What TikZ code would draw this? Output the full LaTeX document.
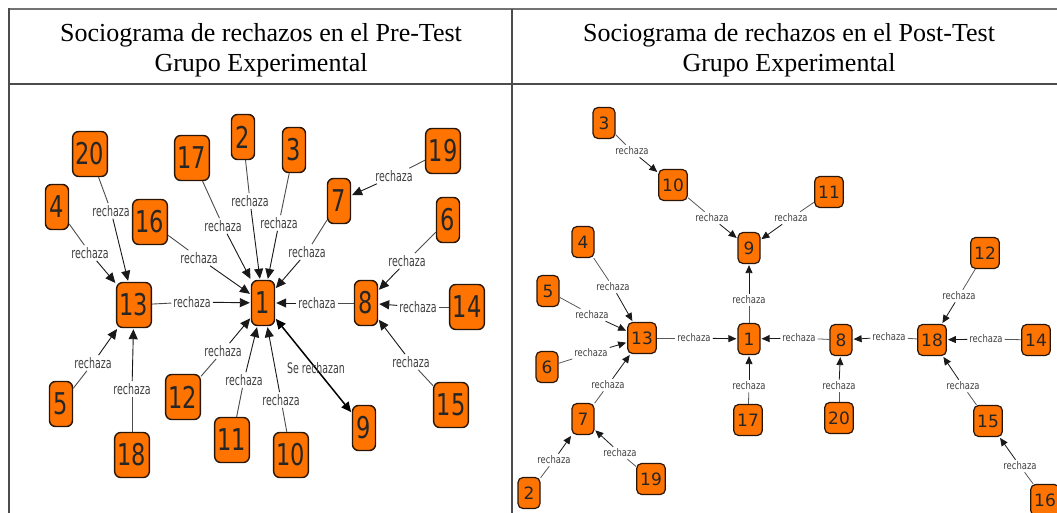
\documentclass[tikz,border=0pt]{standalone}
\usepackage{fontspec}
\setmainfont{Liberation Serif}
\newfontfamily\prenum[FakeStretch=0.75]{DejaVu Sans}
\newfontfamily\postnum{DejaVu Sans}
\newfontfamily\prelab[FakeStretch=0.65]{DejaVu Sans}
\newfontfamily\postlab[FakeStretch=0.8]{DejaVu Sans}
\usetikzlibrary{arrows.meta}
\definecolor{boxorange}{RGB}{255,115,0}
\definecolor{boxedge}{RGB}{40,22,8}

\begin{document}
\begin{tikzpicture}[x=1pt,y=-1pt,
  pbox/.style={draw=boxedge, line width=1.4pt, fill=boxorange, rounded corners=6pt, minimum width=23pt, minimum height=45pt, inner xsep=3pt, font=\prenum\fontsize{30}{30}\selectfont, text=black!85},
  qbox/.style={draw=boxedge, line width=1.2pt, fill=boxorange, rounded corners=5pt, minimum width=22pt, minimum height=31pt, inner xsep=3.5pt, font=\postnum\fontsize{17}{17}\selectfont, text=black!85},
  plab/.style={inner sep=2pt, text=black!75, font=\prelab\fontsize{14.5}{14.5}\selectfont},
  qlab/.style={inner sep=2pt, text=black!75, font=\postlab\fontsize{10.5}{10.5}\selectfont},
  prej/.style={draw=black!70, line width=0.9pt},
  parr/.style={prej, draw=black!90, shorten >=1pt, -{Triangle[length=10pt,width=9pt]}},
  qrej/.style={draw=black!65, line width=0.8pt},
  qarr/.style={qrej, draw=black!90, shorten >=1pt, -{Triangle[length=8pt,width=7pt]}}]
\useasboundingbox (0,0) rectangle (1057,513);
\fill[white] (0,0) rectangle (1057,513);
\draw[line width=2pt, black!55] (9,9) -- (1057,9);
\draw[line width=1.2pt, black!70] (9,8) -- (9,513);
\draw[line width=1.2pt, black!70] (512,9) -- (512,513);
\draw[line width=1.2pt, black!70] (9,84) -- (1057,84);
\node[font=\fontsize{26}{30}\selectfont, align=center] (tpre) at (261,50) {Sociograma de rechazos en el Pre-Test\\Grupo Experimental};
\node[font=\fontsize{26}{30}\selectfont, align=center] (tpost) at (789,50) {Sociograma de rechazos en el Post-Test\\Grupo Experimental};
% pre-test
\node[pbox] (p1) at (263,303) {1};
\node[pbox] (p2) at (243,137) {2};
\node[pbox] (p3) at (294,150) {3};
\node[pbox] (p4) at (57,207) {4};
\node[pbox] (p5) at (61,404) {5};
\node[pbox] (p6) at (448,220) {6};
\node[pbox] (p7) at (339,201) {7};
\node[pbox] (p8) at (366,303) {8};
\node[pbox] (p9) at (364,428) {9};
\node[pbox] (p10) at (291,455) {10};
\node[pbox] (p11) at (232,440) {11};
\node[pbox] (p12) at (183,397) {12};
\node[pbox] (p13) at (134,305) {13};
\node[pbox] (p14) at (467,307) {14};
\node[pbox] (p15) at (451,405) {15};
\node[pbox] (p16) at (150,222) {16};
\node[pbox] (p17) at (192,158) {17};
\node[pbox] (p18) at (132,455) {18};
\node[pbox] (p19) at (443,151) {19};
\node[pbox] (p20) at (90,154) {20};
\node[plab] (pl20) at (111,211) {rechaza};
\node[plab] (pl4) at (90,253) {rechaza};
\node[plab] (pl5) at (93,363) {rechaza};
\node[plab] (pl18) at (132,389) {rechaza};
\node[plab] (pl13) at (192,302) {rechaza};
\node[plab] (pl16) at (199,258) {rechaza};
\node[plab] (pl17) at (223,226) {rechaza};
\node[plab] (pl2) at (250,201) {rechaza};
\node[plab] (pl3) at (279,223) {rechaza};
\node[plab] (pl7) at (307,252) {rechaza};
\node[plab] (pl19) at (394,176) {rechaza};
\node[plab] (pl8) at (317,303) {rechaza};
\node[plab] (pl6) at (407,261) {rechaza};
\node[plab] (pl14) at (418,307) {rechaza};
\node[plab] (pl15) at (411,362) {rechaza};
\node[plab] (pl12) at (223,351) {rechaza};
\node[plab] (pl11) at (244,380) {rechaza};
\node[plab] (pl10) at (281,400) {rechaza};
\draw[prej] (p20) -- (pl20); \draw[parr] (pl20) -- (p13);
\draw[prej] (p4) -- (pl4); \draw[parr] (pl4) -- (p13);
\draw[prej] (p5) -- (pl5); \draw[parr] (pl5) -- (p13);
\draw[prej] (p18) -- (pl18); \draw[parr] (pl18) -- (p13);
\draw[prej] (p13) -- (pl13); \draw[parr] (pl13) -- (p1);
\draw[prej] (p16) -- (pl16); \draw[parr] (pl16) -- (p1);
\draw[prej] (p17) -- (pl17); \draw[parr] (pl17) -- (p1);
\draw[prej] (p2) -- (pl2); \draw[parr] (pl2) -- (p1);
\draw[prej] (p3) -- (pl3); \draw[parr] (pl3) -- (p1);
\draw[prej] (p7) -- (pl7); \draw[parr] (pl7) -- (p1);
\draw[prej] (p19) -- (pl19); \draw[parr] (pl19) -- (p7);
\draw[prej] (p8) -- (pl8); \draw[parr] (pl8) -- (p1);
\draw[prej] (p6) -- (pl6); \draw[parr] (pl6) -- (p8);
\draw[prej] (p14) -- (pl14); \draw[parr] (pl14) -- (p8);
\draw[prej] (p15) -- (pl15); \draw[parr] (pl15) -- (p8);
\draw[prej] (p12) -- (pl12); \draw[parr] (pl12) -- (p1);
\draw[prej] (p11) -- (pl11); \draw[parr] (pl11) -- (p1);
\draw[prej] (p10) -- (pl10); \draw[parr] (pl10) -- (p1);
\draw[black, line width=1.5pt, shorten <=1pt, shorten >=1pt, {Triangle[length=10pt,width=9pt]}-{Triangle[length=10pt,width=9pt]}] (p1) -- (p9);
\node[plab] (pl1) at (316,368) {Se rechazan};
% post-test
\node[qbox] (q1) at (749,339) {1};
\node[qbox] (q2) at (529,493) {2};
\node[qbox] (q3) at (604,123) {3};
\node[qbox] (q4) at (583,242) {4};
\node[qbox] (q5) at (548,291) {5};
\node[qbox] (q6) at (547,367) {6};
\node[qbox] (q7) at (583,419) {7};
\node[qbox] (q8) at (841,340) {8};
\node[qbox] (q9) at (749,248) {9};
\node[qbox] (q10) at (673,185) {10};
\node[qbox] (q11) at (829,192) {11};
\node[qbox] (q12) at (985,253) {12};
\node[qbox] (q13) at (642,338) {13};
\node[qbox] (q14) at (1036,340) {14};
\node[qbox] (q15) at (988,421) {15};
\node[qbox] (q16) at (1045,500) {16};
\node[qbox] (q17) at (748,420) {17};
\node[qbox] (q18) at (932,340) {18};
\node[qbox] (q19) at (651,479) {19};
\node[qbox] (q20) at (839,418) {20};
\node[qlab] (ql3) at (632,151) {rechaza};
\node[qlab] (ql10) at (712,218) {rechaza};
\node[qlab] (ql11) at (791,218) {rechaza};
\node[qlab] (ql1) at (749,300) {rechaza};
\node[qlab] (ql4) at (613,287) {rechaza};
\node[qlab] (ql5) at (592,315) {rechaza};
\node[qlab] (ql6) at (591,353) {rechaza};
\node[qlab] (ql7) at (608,385) {rechaza};
\node[qlab] (ql2) at (554,460) {rechaza};
\node[qlab] (ql19) at (620,453) {rechaza};
\node[qlab] (ql13) at (694,338) {rechaza};
\node[qlab] (ql17) at (749,386) {rechaza};
\node[qlab] (ql8) at (799,338) {rechaza};
\node[qlab] (ql20) at (839,386) {rechaza};
\node[qlab] (ql18) at (889,337) {rechaza};
\node[qlab] (ql12) at (959,296) {rechaza};
\node[qlab] (ql14) at (986,339) {rechaza};
\node[qlab] (ql15) at (963,386) {rechaza};
\node[qlab] (ql16) at (1020,466) {rechaza};
\draw[qrej] (q3) -- (ql3); \draw[qarr] (ql3) -- (q10);
\draw[qrej] (q10) -- (ql10); \draw[qarr] (ql10) -- (q9);
\draw[qrej] (q11) -- (ql11); \draw[qarr] (ql11) -- (q9);
\draw[qrej] (q1) -- (ql1); \draw[qarr] (ql1) -- (q9);
\draw[qrej] (q4) -- (ql4); \draw[qarr] (ql4) -- (q13);
\draw[qrej] (q5) -- (ql5); \draw[qarr] (ql5) -- (q13);
\draw[qrej] (q6) -- (ql6); \draw[qarr] (ql6) -- (q13);
\draw[qrej] (q7) -- (ql7); \draw[qarr] (ql7) -- (q13);
\draw[qrej] (q2) -- (ql2); \draw[qarr] (ql2) -- (q7);
\draw[qrej] (q19) -- (ql19); \draw[qarr] (ql19) -- (q7);
\draw[qrej] (q13) -- (ql13); \draw[qarr] (ql13) -- (q1);
\draw[qrej] (q17) -- (ql17); \draw[qarr] (ql17) -- (q1);
\draw[qrej] (q8) -- (ql8); \draw[qarr] (ql8) -- (q1);
\draw[qrej] (q20) -- (ql20); \draw[qarr] (ql20) -- (q8);
\draw[qrej] (q18) -- (ql18); \draw[qarr] (ql18) -- (q8);
\draw[qrej] (q12) -- (ql12); \draw[qarr] (ql12) -- (q18);
\draw[qrej] (q14) -- (ql14); \draw[qarr] (ql14) -- (q18);
\draw[qrej] (q15) -- (ql15); \draw[qarr] (ql15) -- (q18);
\draw[qrej] (q16) -- (ql16); \draw[qarr] (ql16) -- (q15);
\end{tikzpicture}
\end{document}
